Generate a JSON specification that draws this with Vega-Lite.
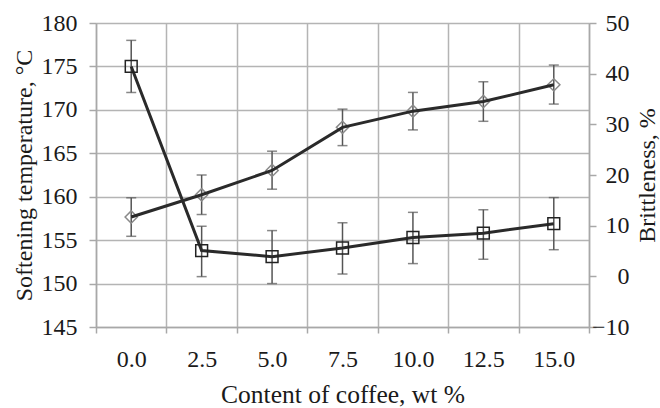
{
  "$schema": "https://vega.github.io/schema/vega-lite/v6.json",
  "width": 493,
  "height": 304,
  "autosize": {"type": "none"},
  "padding": {"left": 96, "top": 23, "right": 71, "bottom": 81},
  "background": "white",
  "config": {
    "view": {"stroke": null},
    "font": "Liberation Serif",
    "axis": {
      "labelFont": "Liberation Serif",
      "titleFont": "Liberation Serif",
      "labelFontSize": 24,
      "titleFontSize": 24,
      "labelColor": "#1a1a1a",
      "titleColor": "#1a1a1a",
      "titleFontWeight": "normal",
      "domainColor": "#a8a8a8",
      "tickColor": "#a8a8a8",
      "gridColor": "#b4b4b4",
      "domainWidth": 1.5,
      "tickWidth": 1.5,
      "gridWidth": 1.5,
      "gridOpacity": 1
    }
  },
  "data": {
    "values": [
      {"coffee": "0.0", "temp": 175.0, "temp_lo": 172.0, "temp_hi": 178.0, "brit": 11.7, "brit_lo": 7.9, "brit_hi": 15.5},
      {"coffee": "2.5", "temp": 153.8, "temp_lo": 150.8, "temp_hi": 156.6, "brit": 16.1, "brit_lo": 12.2, "brit_hi": 20.0},
      {"coffee": "5.0", "temp": 153.1, "temp_lo": 150.0, "temp_hi": 156.1, "brit": 20.9, "brit_lo": 17.2, "brit_hi": 24.7},
      {"coffee": "7.5", "temp": 154.1, "temp_lo": 151.1, "temp_hi": 157.0, "brit": 29.4, "brit_lo": 25.8, "brit_hi": 33.0},
      {"coffee": "10.0", "temp": 155.3, "temp_lo": 152.3, "temp_hi": 158.2, "brit": 32.6, "brit_lo": 28.9, "brit_hi": 36.3},
      {"coffee": "12.5", "temp": 155.8, "temp_lo": 152.8, "temp_hi": 158.5, "brit": 34.5, "brit_lo": 30.6, "brit_hi": 38.4},
      {"coffee": "15.0", "temp": 156.9, "temp_lo": 153.9, "temp_hi": 159.9, "brit": 37.8, "brit_lo": 34.0, "brit_hi": 41.7}
    ]
  },
  "encoding": {
    "x": {
      "field": "coffee",
      "type": "ordinal",
      "sort": ["0.0", "2.5", "5.0", "7.5", "10.0", "12.5", "15.0"],
      "scale": {"type": "band", "paddingInner": 0, "paddingOuter": 0},
      "axis": {
        "title": "Content of coffee, wt %",
        "titleFontSize": 25.5,
        "tickBand": "extent",
        "grid": true,
        "labelAngle": 0,
        "tickSize": 6,
        "labelPadding": 14,
        "titlePadding": 11
      }
    }
  },
  "layer": [
    {
      "layer": [
        {
          "mark": {"type": "rule", "color": "#555555", "strokeWidth": 1.5},
          "encoding": {
            "y": {"field": "temp_lo", "type": "quantitative", "scale": {"domain": [145, 180], "nice": false, "zero": false},
              "axis": {"title": "Softening temperature, °C", "values": [145, 150, 155, 160, 165, 170, 175, 180], "grid": true, "tickSize": 7, "labelPadding": 12, "titlePadding": 5}},
            "y2": {"field": "temp_hi"}
          }
        },
        {
          "mark": {"type": "tick", "color": "#555555", "thickness": 1.5, "size": 10},
          "encoding": {"y": {"field": "temp_lo", "type": "quantitative", "title": "Softening temperature, °C"}}
        },
        {
          "mark": {"type": "tick", "color": "#555555", "thickness": 1.5, "size": 10},
          "encoding": {"y": {"field": "temp_hi", "type": "quantitative", "title": "Softening temperature, °C"}}
        },
        {
          "mark": {"type": "line", "color": "#2a2a2a", "strokeWidth": 3},
          "encoding": {"y": {"field": "temp", "type": "quantitative", "title": "Softening temperature, °C"}}
        },
        {
          "mark": {"type": "point", "shape": "square", "filled": false, "stroke": "#222222", "strokeWidth": 1.5, "size": 140, "opacity": 1},
          "encoding": {"y": {"field": "temp", "type": "quantitative", "title": "Softening temperature, °C"}}
        }
      ]
    },
    {
      "layer": [
        {
          "mark": {"type": "rule", "color": "#555555", "strokeWidth": 1.5},
          "encoding": {
            "y": {"field": "brit_lo", "type": "quantitative", "scale": {"domain": [-10, 50], "nice": false, "zero": false},
              "axis": {"title": "Brittleness, %", "orient": "right", "values": [-10, 0, 10, 20, 30, 40, 50], "grid": false, "tickSize": 7, "labelAlign": "right", "labelPadding": 33, "titleAngle": 270, "titleBaseline": "top", "titlePadding": 6}},
            "y2": {"field": "brit_hi"}
          }
        },
        {
          "mark": {"type": "tick", "color": "#555555", "thickness": 1.5, "size": 10},
          "encoding": {"y": {"field": "brit_lo", "type": "quantitative", "title": "Brittleness, %"}}
        },
        {
          "mark": {"type": "tick", "color": "#555555", "thickness": 1.5, "size": 10},
          "encoding": {"y": {"field": "brit_hi", "type": "quantitative", "title": "Brittleness, %"}}
        },
        {
          "mark": {"type": "point", "shape": "diamond", "filled": false, "stroke": "#8a8a8a", "strokeWidth": 1.5, "size": 150, "opacity": 1},
          "encoding": {"y": {"field": "brit", "type": "quantitative", "title": "Brittleness, %"}}
        },
        {
          "mark": {"type": "line", "color": "#2a2a2a", "strokeWidth": 3},
          "encoding": {"y": {"field": "brit", "type": "quantitative", "title": "Brittleness, %"}}
        }
      ]
    }
  ],
  "resolve": {"scale": {"y": "independent"}}
}
